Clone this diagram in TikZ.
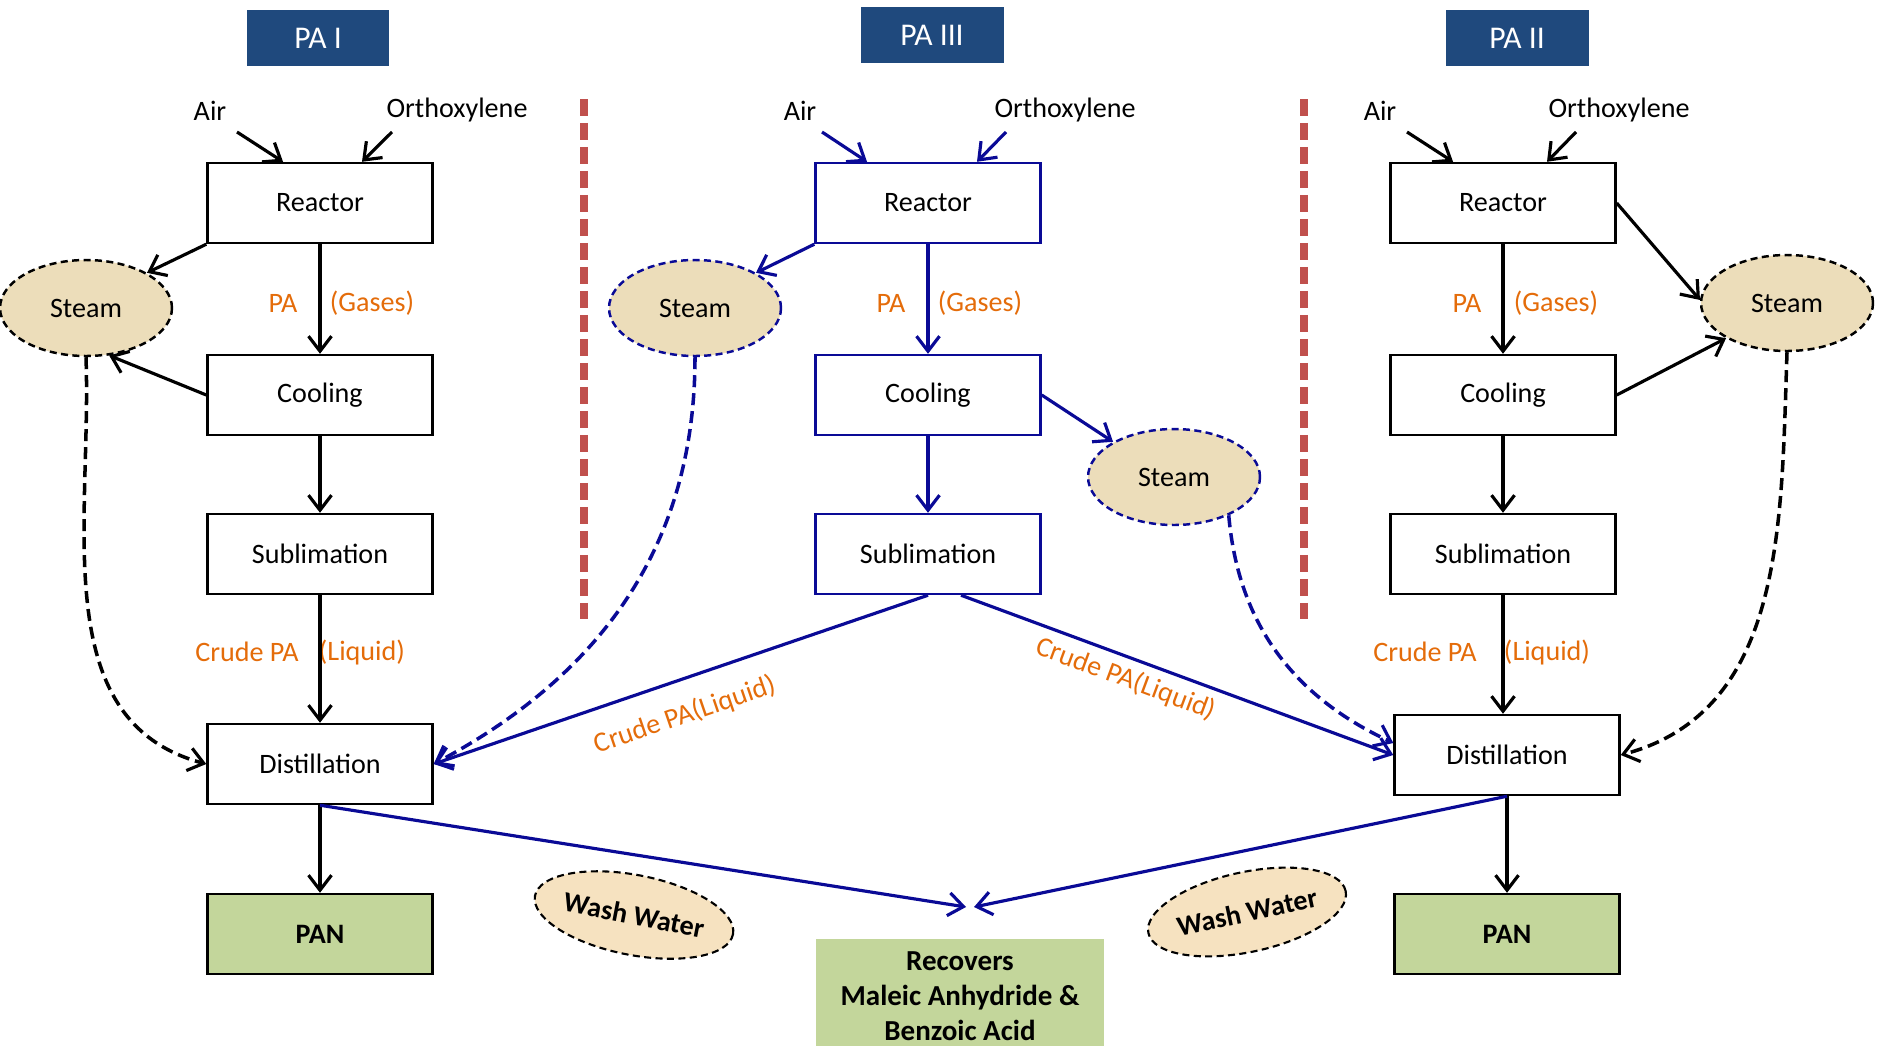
\documentclass[tikz,border=0pt]{standalone}
\usepackage{fontspec}
\setmainfont{Carlito}
\usetikzlibrary{arrows.meta,shapes.geometric}
\definecolor{hdrblue}{RGB}{31,73,125}
\definecolor{lineblue}{RGB}{10,10,150}
\definecolor{txtorange}{RGB}{228,108,10}
\definecolor{pangreen}{RGB}{195,214,155}
\definecolor{steamfill}{RGB}{236,221,186}
\definecolor{washfill}{RGB}{246,226,192}
\definecolor{sepred}{RGB}{192,80,77}

\begin{document}
\begin{tikzpicture}[x=0.02cm,y=-0.02cm,
    font=\fontsize{16}{20}\selectfont,
    >={Straight Barb[length=3mm,width=4.6mm,line width=1.8pt]},
    unit/.style={draw,line width=1.4pt,minimum width=4.5cm,minimum height=1.6cm},
    prod/.style={unit,fill=pangreen,font=\fontsize{16}{20}\selectfont\bfseries},
    hdr/.style={fill=hdrblue,text=white,minimum width=2.86cm,minimum height=1.12cm,font=\fontsize{18}{22}\selectfont},
    steam/.style={ellipse,draw,line width=1.4pt,dash pattern=on 4pt off 2.5pt,fill=steamfill,minimum width=3.44cm,minimum height=1.92cm},
    wash/.style={ellipse,draw,line width=1.2pt,dash pattern=on 4pt off 2.5pt,fill=washfill,inner sep=0pt,minimum width=3.9cm,minimum height=1.6cm,font=\fontsize{16}{20}\selectfont\bfseries},
    flow/.style={->,line width=1.8pt},
    steamflow/.style={flow,line width=2pt,dash pattern=on 0.24cm off 0.12cm},
    lbl/.style={text=txtorange},
    sep/.style={sepred,line width=4.5pt,dash pattern=on 0.34cm off 0.14cm}]
\useasboundingbox (0,0) rectangle (1878,1045);

% headers
\node[hdr] (hdrI) at (318,38) {PA I};
\node[hdr] (hdrIII) at (932,35) {PA III};
\node[hdr] (hdrII) at (1517,38) {PA II};

% separators
\draw[sep] (584,99) -- (584,619);
\draw[sep] (1304,99) -- (1304,619);

% PA I
\node (airI) at (210,111) {Air};
\node (orthoI) at (457,110) {Orthoxylene};
\coordinate (airinI) at (237,132);
\coordinate (orthoinI) at (392,132);
\node[unit] (reacI) at (320,203) {Reactor};
\node[unit] (coolI) at (320,395) {Cooling};
\node[unit] (sublI) at (320,554) {Sublimation};
\node[unit] (distI) at (320,764) {Distillation};
\node[prod] (panI) at (320,934) {PAN};
\node[steam] (steamI) at (86,308) {Steam};
\node[lbl] (paI) at (283,303) {PA};
\node[lbl] (gasI) at (372,303) {(Gases)};
\node[lbl] (crudeI) at (247,652) {Crude PA};
\node[lbl] (liqI) at (362,652) {(Liquid)};
\draw[flow] (airinI) -- ([xshift=-0.74cm]reacI.north);
\draw[flow] (orthoinI) -- ([xshift=0.84cm]reacI.north);
\draw[flow] (reacI.south west) -- (steamI.30);
\draw[flow] (coolI.west) -- (steamI.-64);
\draw[flow] (reacI) -- (coolI);
\draw[flow] (coolI) -- (sublI);
\draw[flow] (sublI) -- (distI);
\draw[flow] (distI) -- (panI);
\draw[steamflow] (steamI.south) to[out=-88,in=165] (distI.west);

% PA III
\begin{scope}[lineblue]
\node[black] (airIII) at (800,111) {Air};
\node[black] (orthoIII) at (1065,110) {Orthoxylene};
\coordinate (airinIII) at (822,132);
\coordinate (orthoinIII) at (1006,132);
\node[unit,text=black] (reacIII) at (928,203) {Reactor};
\node[unit,text=black] (coolIII) at (928,395) {Cooling};
\node[unit,text=black] (sublIII) at (928,554) {Sublimation};
\node[steam,text=black] (steamIIIa) at (695,308) {Steam};
\node[steam,text=black] (steamIIIb) at (1174,477) {Steam};
\draw[flow] (airinIII) -- ([xshift=-1.22cm]reacIII.north);
\draw[flow] (orthoinIII) -- ([xshift=0.98cm]reacIII.north);
\draw[flow] (reacIII.south west) -- (steamIIIa.30);
\draw[flow] (coolIII.east) -- (steamIIIb.150);
\draw[flow] (reacIII) -- (coolIII);
\draw[flow] (coolIII) -- (sublIII);
\end{scope}
\node[lbl] (paIII) at (891,303) {PA};
\node[lbl] (gasIII) at (980,303) {(Gases)};

% PA II
\node (airII) at (1380,111) {Air};
\node (orthoII) at (1619,110) {Orthoxylene};
\coordinate (airinII) at (1407,132);
\coordinate (orthoinII) at (1576,132);
\node[unit] (reacII) at (1503,203) {Reactor};
\node[unit] (coolII) at (1503,395) {Cooling};
\node[unit] (sublII) at (1503,554) {Sublimation};
\node[unit] (distII) at (1507,755) {Distillation};
\node[prod] (panII) at (1507,934) {PAN};
\node[steam] (steamII) at (1787,303) {Steam};
\node[lbl] (paII) at (1467,303) {PA};
\node[lbl] (gasII) at (1556,303) {(Gases)};
\node[lbl] (crudeII) at (1425,652) {Crude PA};
\node[lbl] (liqII) at (1547,652) {(Liquid)};
\draw[flow] (airinII) -- ([xshift=-1.0cm]reacII.north);
\draw[flow] (orthoinII) -- ([xshift=0.88cm]reacII.north);
\draw[flow] (reacII.east) -- (steamII.178);
\draw[flow] (coolII.east) -- (steamII.-150);
\draw[flow] (reacII) -- (coolII);
\draw[flow] (coolII) -- (sublII);
\draw[flow] (sublII.south) -- (sublII.south |- distII.north);
\draw[flow] (distII) -- (panII);
\draw[steamflow] (steamII.south) to[out=-92,in=15] (distII.east);

% crude PA from PA III to both distillations
\draw[flow,lineblue] (sublIII.south) -- (distI.east);
\draw[flow,lineblue] ([xshift=0.66cm]sublIII.south) -- (distII.west);
\node[lbl,rotate=18.9] (crudeIIIa) at (685,715) {Crude PA(Liquid)};
\node[lbl,rotate=-20.4] (crudeIIIb) at (1126,679) {Crude PA(Liquid)};
\draw[steamflow,lineblue] (steamIIIa.south) to[out=-90,in=28] (distI.east);
\draw[steamflow,lineblue] (steamIIIb.-35) to[out=-85,in=155] ([yshift=0.24cm]distII.west);

% recovery
\coordinate (meetI) at (966,907);
\coordinate (meetII) at (974,907);
\draw[flow,lineblue] (distI.south) -- (meetI);
\draw[flow,lineblue] (distII.south) -- (meetII);
\node[fill=pangreen,anchor=north,minimum width=5.76cm,inner sep=7pt,align=center,
      font=\fontsize{16.5}{20}\selectfont\bfseries] (recov) at (960,939)
      {Recovers\\Maleic Anhydride \&\\Benzoic Acid};
\node[wash,rotate=-11] (washI) at (634,915) {Wash Water};
\node[wash,rotate=12] (washII) at (1247,912) {Wash Water};
\end{tikzpicture}
\end{document}
